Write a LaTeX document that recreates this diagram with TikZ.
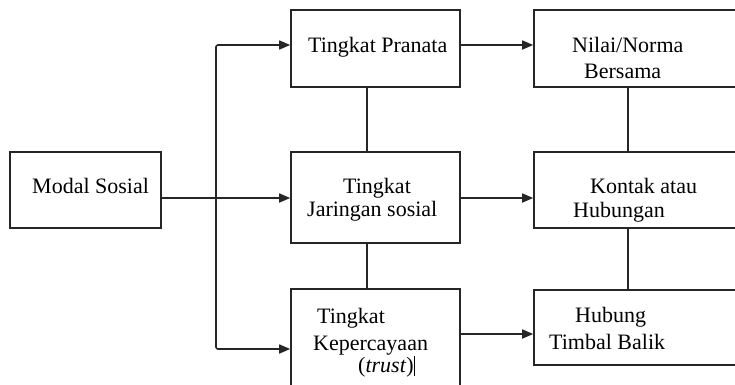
\documentclass[tikz,border=0pt]{standalone}
\usepackage{fontspec}
\setmainfont{Liberation Serif}
\newfontfamily\timesfont{Liberation Serif}
\usetikzlibrary{arrows.meta}
\begin{document}
\begin{tikzpicture}[x=1pt,y=-1pt,
  box/.style={draw=black!85, line width=1.6pt, inner sep=0pt, minimum width=#1},
  conn/.style={draw=black!85, line width=1.6pt},
  arr/.style={conn, -{Triangle[length=11pt,width=9pt]}},
  lbl/.style={anchor=base west, inner sep=0pt, font=\timesfont\fontsize{22}{26}\selectfont}]
\useasboundingbox (0,0) rectangle (735,384);
\clip (0,0) rectangle (735,384);
% boxes
\node[box=151pt, minimum height=76pt] (modal) at (85.5,190) {};
\node[box=169pt, minimum height=77pt] (pranata) at (375.5,48.5) {};
\node[box=169pt, minimum height=91pt] (jaringan) at (375.5,197.5) {};
\node[box=169pt, minimum height=111pt] (kepercayaan) at (375.5,344.5) {};
\node[box=216pt, minimum height=77pt] (nilai) at (642,48.5) {};
\node[box=216pt, minimum height=76pt] (kontak) at (642,190) {};
\node[box=216pt, minimum height=75pt] (hubung) at (642,327.5) {};
% labels
\node[lbl] (tModal) at (32,193) {Modal Sosial};
\node[lbl] (tPranata) at (308,52) {Tingkat Pranata};
\node[lbl] (tNilai1) at (572,52) {Nilai/Norma};
\node[lbl] (tNilai2) at (584,78) {Bersama};
\node[lbl] (tJar1) at (343,193) {Tingkat};
\node[lbl] (tJar2) at (307,216) {Jaringan sosial};
\node[lbl] (tKon1) at (590,193) {Kontak atau};
\node[lbl] (tKon2) at (573,217) {Hubungan};
\node[lbl] (tKep1) at (317,323) {Tingkat};
\node[lbl] (tKep2) at (313,350) {Kepercayaan};
\node[lbl] (tKep3) at (358,372) {(\textit{trust})\rule[-4pt]{0.9pt}{20pt}};
\node[lbl] (tHub1) at (575,322) {Hubung};
\node[lbl] (tHub2) at (549,349) {Timbal Balik};
% connectors
\coordinate (tt) at (216,45);
\coordinate (tb) at (216,349);
\coordinate (mid) at (216,198);
\draw[conn, {Triangle[length=11pt,width=9pt]}-{Triangle[length=11pt,width=9pt]}, rounded corners=2pt]
  (pranata.west |- tt) -- (tt) -- (tb) -- (kepercayaan.west |- tb);
\draw[arr] (modal.east |- mid) -- (jaringan.west |- mid);
\draw[arr] (pranata.east |- tt) -- (nilai.west |- tt);
\draw[arr] (jaringan.east |- mid) -- (kontak.west |- mid);
\draw[arr] (kepercayaan.east |- 0,334) -- (hubung.west |- 0,334);
\draw[conn] (pranata.south -| 367,0) -- (jaringan.north -| 367,0);
\draw[conn] (jaringan.south -| 367,0) -- (kepercayaan.north -| 367,0);
\draw[conn] (nilai.south -| 628,0) -- (kontak.north -| 628,0);
\draw[conn] (kontak.south -| 628,0) -- (hubung.north -| 628,0);
\end{tikzpicture}
\end{document}
